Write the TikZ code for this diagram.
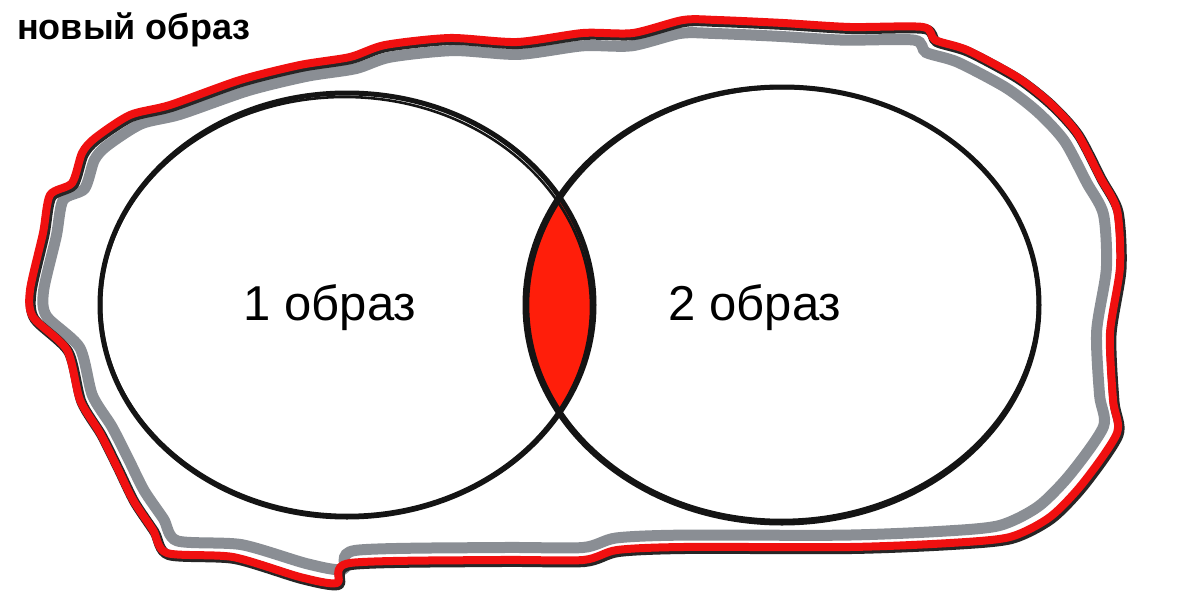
\documentclass[tikz,border=0pt]{standalone}
\usepackage{fontspec}
\setmainfont{Liberation Sans}
\definecolor{outred}{HTML}{F01010}
\definecolor{lensred}{HTML}{FF1E0A}
\definecolor{shadow}{HTML}{8A8E94}
\tikzset{
  outline/.style={line width=8pt, outred, line join=round},
  outlinefringe/.style={line width=10pt, black!85, line join=round},
  shadowline/.style={line width=11pt, shadow, line join=miter},
  ring/.style={line width=5pt, black!92},
  ringtwo/.style={line width=2.6pt, black!92},
  label/.style={font=\fontsize{49}{58}\selectfont, anchor=base, inner sep=0pt},
  title/.style={font=\fontsize{36}{42}\selectfont\bfseries, anchor=base west, inner sep=0pt}
}
\newcommand{\outerpath}{plot[smooth cycle, tension=0.45] coordinates {
 (50,195) (72,183) (82,153) (95,138) (130,115) (170,105) (240,80) (300,65) (350,57)
 (385,45) (450,38) (517,42) (583,33) (633,33) (683,20) (717,20) (783,23) (850,27)
 (923,27) (935,40) (967,50) (1017,77) (1050,103) (1077,133) (1100,177) (1117,210)
 (1120,267) (1110,333) (1113,400) (1117,433) (1083,483) (1050,517) (1010,537)
 (950,543) (850,547) (683,547) (617,550) (583,560) (500,560) (350,563) (337,583)
 (300,577) (233,557) (167,553) (153,530) (133,500) (117,467) (100,433) (80,400)
 (67,350) (33,317) (30,290) (43,233)}}
\begin{document}
\begin{tikzpicture}[x=1pt, y=-1pt]
\useasboundingbox[fill=white] (0,0) rectangle (1200,605);
% grey shadow inside the red outline
\begin{scope}[shift={(575,300)}, xscale=0.975, yscale=0.952, shift={(-575,-300)}]
  \draw[shadowline] \outerpath;
\end{scope}
% red outline with a dark fringe
\draw[outlinefringe] [shift={(1.5,2)}] \outerpath;
\draw[outline] \outerpath;
% lens (intersection)
\begin{scope}
  \clip (347,305) ellipse [x radius=247pt, y radius=212pt];
  \fill[lensred] (782,305) ellipse [x radius=257pt, y radius=218pt];
\end{scope}
% the two images
\draw[ring] (347,305) ellipse [x radius=247pt, y radius=212pt];
\draw[ringtwo, rotate around={-1:(346,306)}] (346,306) ellipse [x radius=245pt, y radius=209pt];
\draw[ring] (782,305) ellipse [x radius=257pt, y radius=218pt];
\draw[ringtwo, rotate around={1:(783,304)}] (783,304) ellipse [x radius=255pt, y radius=216pt];
% texts
\node[label] (img1) at (330,320) {1 образ};
\node[label] (img2) at (755,320) {2 образ};
\node[title] (newimg) at (17,39) {новый образ};
\end{tikzpicture}
\end{document}
